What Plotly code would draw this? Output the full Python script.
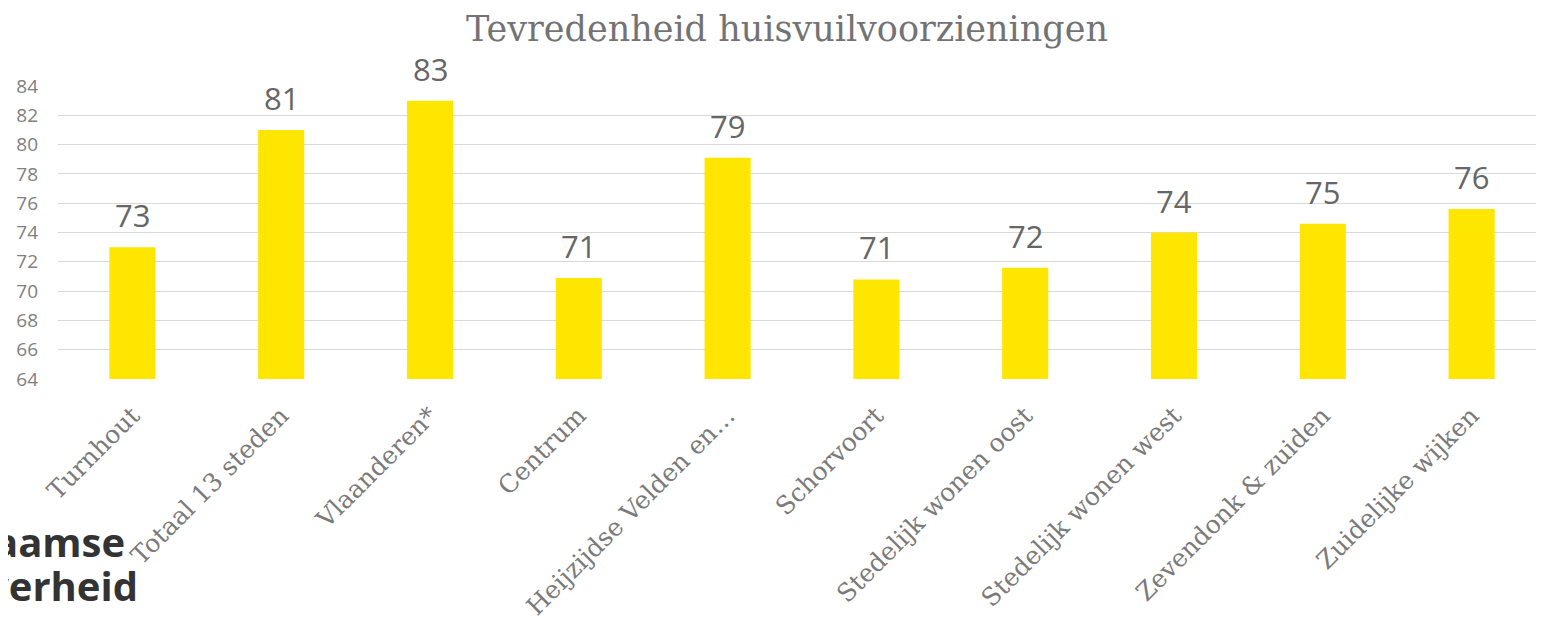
import plotly.graph_objects as go

categories = ["Turnhout", "Totaal 13 steden", "Vlaanderen*", "Centrum",
              "Heijzijdse Velden en…", "Schorvoort", "Stedelijk wonen oost",
              "Stedelijk wonen west", "Zevendonk & zuiden", "Zuidelijke wijken"]
values = [73.0, 81.0, 83.0, 70.9, 79.1, 70.8, 71.6, 74.0, 74.6, 75.6]
y_ticks = list(range(64, 85, 2))

W, H = 1544, 626
OFF = 8  # browser body margin
L, R, T, B = 50, 6, 78, 255
PW = W - L - R
PH = H - T - B


def px_x(sx):
    return (sx - OFF - L) / PW


def px_y(sy):
    return (H - B - (sy - OFF)) / PH


fig = go.Figure()
fig.add_trace(go.Bar(
    x=categories, y=values,
    marker=dict(color="#FFE600", line=dict(width=0)),
    hoverinfo="x+y",
))

for c, v in zip(categories, values):
    fig.add_annotation(x=c, y=v, text=f"{v:.0f}", showarrow=False,
                       xanchor="center", yanchor="middle", yshift=32,
                       font=dict(family="Open Sans", size=31, color="#666666"))

fig.update_layout(
    width=W, height=H,
    margin=dict(l=L, r=R, t=T, b=B),
    paper_bgcolor="white", plot_bgcolor="white",
    bargap=0.69,
    showlegend=False,
    title=dict(text="Tevredenheid huisvuilvoorzieningen", x=(787 - OFF) / W, xanchor="center",
               y=1 - (29 - OFF) / H, yanchor="middle",
               font=dict(family="DejaVu Serif", size=35, color="#737373")),
    xaxis=dict(tickangle=-45, showgrid=False, showline=False, ticks="",
               ticklabelstandoff=16,
               tickfont=dict(family="DejaVu Serif", size=25, color="#7a7a7a")),
    yaxis=dict(range=[64, 84], tickvals=y_ticks, showgrid=True, gridcolor="#d9d9d9",
               gridwidth=1.3, zeroline=False, showline=False, ticks="",
               tickfont=dict(family="Open Sans", size=19, color="#808080"),
               ticklabelstandoff=19),
)

fig.add_annotation(text="<b>aamse</b>", xref="paper", yref="paper",
                   x=px_x(127), y=px_y(541), xanchor="right", yanchor="middle",
                   showarrow=False, font=dict(family="Open Sans", size=40, color="#333333"))
fig.add_annotation(text="<b>verheid</b>", xref="paper", yref="paper",
                   x=px_x(140), y=px_y(585), xanchor="right", yanchor="middle",
                   showarrow=False, font=dict(family="Open Sans", size=40, color="#333333"))

fig.write_html("out.html")
